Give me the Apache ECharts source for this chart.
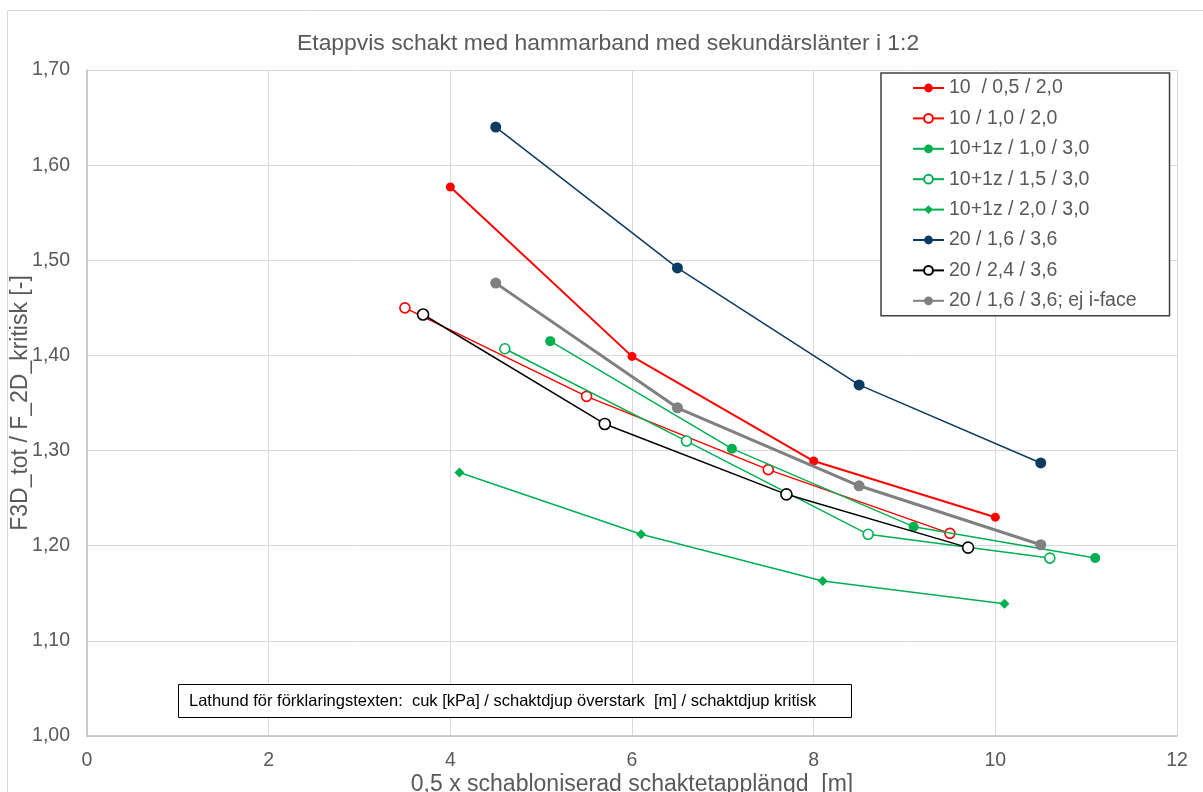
<!DOCTYPE html>
<html>
<head>
<meta charset="utf-8">
<script src="https://cdn.jsdelivr.net/npm/echarts@6/dist/echarts.min.js"></script>
<style>
html,body{margin:0;padding:0;background:#fff;}
#chart{width:1203px;height:792px;}
</style>
</head>
<body>
<div id="chart"></div>
<script>
// ---- data ----
const seriesNames = [
  "10  / 0,5 / 2,0",
  "10 / 1,0 / 2,0",
  "10+1z / 1,0 / 3,0",
  "10+1z / 1,5 / 3,0",
  "10+1z / 2,0 / 3,0",
  "20 / 1,6 / 3,6",
  "20 / 2,4 / 3,6",
  "20 / 1,6 / 3,6; ej i-face"
];
const xs1 = [4.0, 6.0, 8.0, 10.0];   const ys1 = [1.577, 1.399, 1.289, 1.230];
const xs2 = [3.5, 5.5, 7.5, 9.5];    const ys2 = [1.450, 1.357, 1.280, 1.213];
const xs3 = [5.1, 7.1, 9.1, 11.1];   const ys3 = [1.415, 1.302, 1.220, 1.187];
const xs4 = [4.6, 6.6, 8.6, 10.6];   const ys4 = [1.407, 1.310, 1.212, 1.187];
const xs5 = [4.1, 6.1, 8.1, 10.1];   const ys5 = [1.277, 1.212, 1.163, 1.139];
const xs6 = [4.5, 6.5, 8.5, 10.5];   const ys6 = [1.640, 1.492, 1.369, 1.287];
const xs7 = [3.7, 5.7, 7.7, 9.7];    const ys7 = [1.443, 1.328, 1.254, 1.198];
const xs8 = [4.5, 6.5, 8.5, 10.5];   const ys8 = [1.476, 1.345, 1.263, 1.201];
const xTicks = [0, 2, 4, 6, 8, 10, 12];
const yTicks = [1.0, 1.1, 1.2, 1.3, 1.4, 1.5, 1.6, 1.7];
const titleText = "Etappvis schakt med hammarband med sekundärslänter i 1:2";
const xName = "0,5 x schabloniserad schaktetapplängd  [m]";
const yName = "F3D_tot / F_2D_kritisk [-]";
const noteText = "Lathund för förklaringstexten:  cuk [kPa] / schaktdjup överstark  [m] / schaktdjup kritisk";

const allX = [xs1, xs2, xs3, xs4, xs5, xs6, xs7, xs8];
const allY = [ys1, ys2, ys3, ys4, ys5, ys6, ys7, ys8];

// ---- styles ----
const FONT = "'Liberation Sans', Arial, sans-serif";
const styles = [
  {color: '#FF0000', width: 2,   symbol: 'circle',  size: 9,  hollow: false},
  {color: '#FF0000', width: 1.5, symbol: 'circle',  size: 10, hollow: true},
  {color: '#00B050', width: 1.5, symbol: 'circle',  size: 10, hollow: false},
  {color: '#00B050', width: 1.5, symbol: 'circle',  size: 10, hollow: true},
  {color: '#00B050', width: 1.5, symbol: 'diamond', size: 10, hollow: false},
  {color: '#0B3A62', width: 1.5, symbol: 'circle',  size: 11, hollow: false},
  {color: '#000000', width: 1.5, symbol: 'circle',  size: 11, hollow: true},
  {color: '#808080', width: 3,   symbol: 'circle',  size: 11, hollow: false}
];

const series = seriesNames.map((name, i) => ({
  name: name,
  type: 'line',
  data: allX[i].map((x, j) => [x, allY[i][j]]),
  symbol: styles[i].symbol,
  symbolSize: styles[i].size,
  showAllSymbol: true,
  lineStyle: {color: styles[i].color, width: styles[i].width},
  itemStyle: styles[i].hollow
    ? {color: '#FFFFFF', borderColor: styles[i].color, borderWidth: 1.6}
    : {color: styles[i].color, borderWidth: 0},
  emphasis: {disabled: true},
  z: 3 + i
}));

const fmt = v => v.toFixed(2).replace('.', ',');

const chart = echarts.init(document.getElementById('chart'), null, {renderer: 'canvas'});
chart.setOption({
  animation: false,
  backgroundColor: '#FFFFFF',
  textStyle: {fontFamily: FONT},
  title: [
    {
      text: titleText, left: 292, top: 27,
      textStyle: {fontSize: 22.9, fontWeight: 'normal', color: '#595959', fontFamily: FONT}
    },
    {
      text: noteText, left: 178, top: 684,
      padding: [8, 35, 8, 11],
      borderWidth: 1, borderColor: '#000000', backgroundColor: '#FFFFFF',
      textStyle: {fontSize: 16.5, lineHeight: 18, fontWeight: 'normal', color: '#000000', fontFamily: FONT},
      z: 10
    }
  ],
  grid: {left: 87, top: 70, width: 1090, height: 666, containLabel: false, outerBoundsMode: 'none'},
  xAxis: {
    type: 'value', min: xTicks[0], max: xTicks[xTicks.length - 1], interval: 2,
    name: xName, nameLocation: 'middle', nameGap: 37, nameMoveOverlap: false,
    nameTextStyle: {fontSize: 23, color: '#595959', fontFamily: FONT},
    axisLine: {show: true, lineStyle: {color: '#BFBFBF', width: 1.5}},
    axisTick: {show: false},
    axisLabel: {fontSize: 19.5, color: '#595959', margin: 15, fontFamily: FONT},
    splitLine: {show: true, lineStyle: {color: '#D9D9D9', width: 1}}
  },
  yAxis: {
    type: 'value', min: yTicks[0], max: yTicks[yTicks.length - 1], interval: 0.1,
    name: yName, nameLocation: 'middle', nameGap: 55, nameMoveOverlap: false,
    nameTextStyle: {fontSize: 23, color: '#595959', fontFamily: FONT},
    axisLine: {show: true, lineStyle: {color: '#BFBFBF', width: 1.5}},
    axisTick: {show: false},
    axisLabel: {fontSize: 19.5, color: '#595959', margin: 17, formatter: fmt, fontFamily: FONT},
    splitLine: {show: true, lineStyle: {color: '#D9D9D9', width: 1}}
  },
  legend: {
    orient: 'vertical', left: 881, top: 73,
    padding: [5, 33, 5, 31],
    itemWidth: 31, itemHeight: 11, itemGap: 10.4,
    backgroundColor: '#FFFFFF', borderColor: '#404040', borderWidth: 1.5,
    textStyle: {fontSize: 19.5, lineHeight: 20, color: '#595959', fontFamily: FONT},
    data: seriesNames,
    selectedMode: false,
    z: 10
  },
  graphic: [
    {type: 'rect', shape: {x: 7.5, y: 10.5, width: 1300, height: 900}, style: {fill: 'none', stroke: '#D9D9D9', lineWidth: 1}, silent: true, z: -1}
  ],
  series: series
});
</script>
</body>
</html>
